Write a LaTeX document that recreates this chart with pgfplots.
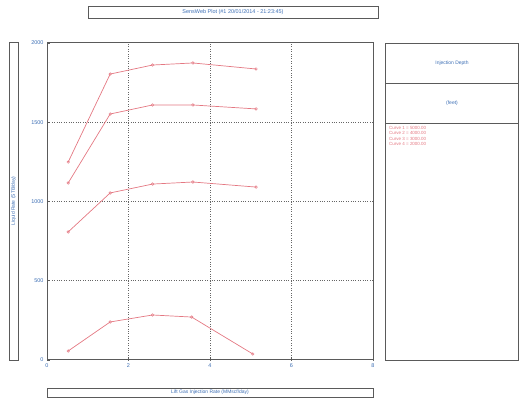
\documentclass[border=0pt]{standalone}
\usepackage{fontspec}
\setmainfont{Liberation Sans}
\usepackage{pgfplots}
\pgfplotsset{compat=1.18}
\definecolor{lblue}{RGB}{60,110,180}
\definecolor{lred}{RGB}{228,120,130}
\definecolor{frame}{RGB}{90,90,90}
\begin{document}
\begin{tikzpicture}
\useasboundingbox (0bp,0bp) rectangle (519bp,398bp);
\begin{axis}[
  at={(47bp,38bp)}, anchor=south west,
  scale only axis, width=326bp, height=317bp,
  xmin=0, xmax=8, ymin=0, ymax=2000,
  xtick={0,2,4,6,8}, ytick={0,500,1000,1500,2000},
  grid=major,
  major grid style={black!60,dotted,line width=1bp},
  axis line style={frame,line width=1bp},
  tick style={frame,line width=0.6bp},
  major tick length=3bp,
  tick pos=left,
  ticklabel style={text=lblue,font=\fontsize{5.5}{6}\selectfont},
  /pgf/number format/assume math mode=true,
  /pgf/number format/1000 sep={},
  every axis plot post/.append style={lred,line width=0.7bp,mark=o,mark size=1.3bp,mark options={lred,line width=0.5bp}},
]
\addplot coordinates {(0.52,1249) (1.55,1804) (2.59,1861) (3.58,1874) (5.13,1836)};
\addplot coordinates {(0.52,1117) (1.55,1552) (2.59,1609) (3.58,1609) (5.13,1584)};
\addplot coordinates {(0.52,808) (1.55,1054) (2.59,1110) (3.58,1123) (5.13,1091)};
\addplot coordinates {(0.52,57) (1.55,240) (2.59,284) (3.55,271) (5.05,38)};
\end{axis}
\begin{scope}[x=1bp,y=1bp]
% title box
\draw[frame,line width=0.8bp] (88,380) rectangle (378,392);
\node[text=lblue,font=\fontsize{5.5}{6}\selectfont] at (233,386) {SensWeb Plot (\#1 20/01/2014 - 21:23:45)};
% y label box
\draw[frame,line width=0.8bp] (9,38) rectangle (18,356);
\node[text=lblue,font=\fontsize{5}{6}\selectfont,rotate=90] at (13.5,197) {Liquid Rate (STB/day)};
% x label box
\draw[frame,line width=0.8bp] (47,1) rectangle (373,10);
\node[text=lblue,font=\fontsize{5}{6}\selectfont] at (210,5.5) {Lift Gas Injection Rate (MMscf/day)};
% legend panel
\draw[frame,line width=0.8bp] (385,38) rectangle (518.5,355);
\draw[frame,line width=0.6bp] (385,315) -- (518.5,315);
\draw[frame,line width=0.6bp] (385,275) -- (518.5,275);
\node[text=lblue,font=\fontsize{5}{6}\selectfont] at (452,335) {Injection Depth};
\node[text=lblue,font=\fontsize{5}{6}\selectfont] at (452,295) {(feet)};
\node[text=lred,font=\fontsize{4.5}{5.5}\selectfont,anchor=north west,align=left,inner sep=0pt] at (389,272) {Curve 1 = 5000.00\\Curve 2 = 4000.00\\Curve 3 = 3000.00\\Curve 4 = 2000.00};
\end{scope}
\end{tikzpicture}
\end{document}
